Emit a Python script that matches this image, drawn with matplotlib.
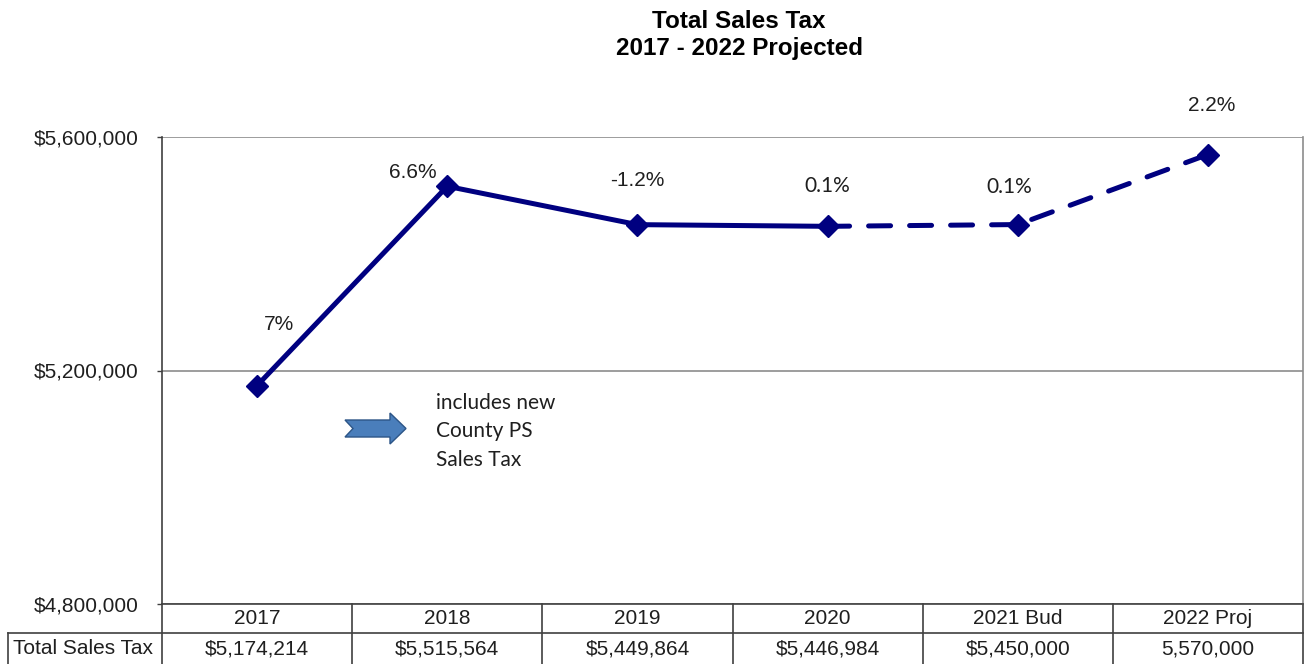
import matplotlib
matplotlib.use("Agg")
import matplotlib.pyplot as plt
from matplotlib.patches import Polygon
from matplotlib.transforms import blended_transform_factory
import numpy as np

plt.rcParams['font.family'] = ['Liberation Sans', 'DejaVu Sans']

# yearly totals and growth over the prior year
years = ['2017', '2018', '2019', '2020', '2021 Bud', '2022 Proj']
sales_tax = [5174214, 5515564, 5449864, 5446984, 5450000, 5570000]
table_text = ['$5,174,214', '$5,515,564', '$5,449,864', '$5,446,984', '$5,450,000', '5,570,000']
growth = ['7%', '6.6%', '-1.2%', '0.1%', '0.1%', '2.2%']
# label offsets in points and font used for each growth label
label_offsets = [(16, 44), (-25, 10), (0, 32), (0, 29), (-6, 27), (3, 35)]
label_fonts = ['Liberation Sans', 'Liberation Sans', 'Liberation Sans', 'Lato', 'Lato', 'Liberation Sans']
actual_end = 3  # 2020 is the last actual year

navy = '#000080'
txt_color = '#1f1f1f'
fs = 15
W, H = 1310, 664

fig = plt.figure(figsize=(W / 100, H / 100), dpi=100)
ax = fig.add_axes([162 / W, 60 / H, 1141 / W, 467 / H])

x = np.arange(len(years))
y = np.array(sales_tax)

# actual years solid, budget / projection dashed
ax.plot(x[actual_end:], y[actual_end:], color=navy, lw=3.6,
        linestyle=(0, (4.4, 3.8)), dash_capstyle='round', zorder=3)
ax.plot(x[:actual_end + 1], y[:actual_end + 1], color=navy, lw=3.6,
        solid_capstyle='round', zorder=4)
ax.plot(x, y, linestyle='none', marker='D', markersize=11, color=navy, zorder=5)

for xi, yi, txt, off, fam in zip(x, y, growth, label_offsets, label_fonts):
    ax.annotate(txt, (xi, yi), xytext=off, textcoords='offset points',
                ha='center', va='center', fontsize=fs, color=txt_color,
                family=fam, annotation_clip=False)

ax.set_xlim(-0.5, len(years) - 0.5)
ax.set_ylim(4800000, 5600000)
ax.set_yticks([4800000, 5200000, 5600000])
ax.set_yticklabels(['$4,800,000', '$5,200,000', '$5,600,000'])
ax.tick_params(axis='y', length=3.6, width=1, color='#404040', labelsize=fs,
               pad=13.5, labelcolor=txt_color)
ax.set_xticks([])
ax.grid(axis='y', color='#8c8c8c', lw=1.2)
ax.set_axisbelow(True)

ax.spines['top'].set_visible(False)
ax.spines['right'].set_color('#8c8c8c')
ax.spines['right'].set_linewidth(1.2)
ax.spines['left'].set_color('#404040')
ax.spines['left'].set_linewidth(1.2)
ax.spines['bottom'].set_color('#404040')
ax.spines['bottom'].set_linewidth(1.2)

# arrow pointing at the note about the county tax
arrow_px = [(345, 420), (390, 420), (390, 413), (406, 428.5), (390, 444),
            (390, 437), (345, 437), (353, 428.5)]
arrow_ax = [((px - 162) / 1141, (604 - py) / 467) for px, py in arrow_px]
ax.add_patch(Polygon(arrow_ax, closed=True, transform=ax.transAxes,
                     facecolor='#4a7ebb', edgecolor='#2c5587', lw=1.0, zorder=2))
ax.text((436 - 162) / 1141, (604 - 393) / 467, 'includes new\nCounty PS\nSales Tax',
        transform=ax.transAxes, family='Lato', fontsize=fs, color=txt_color,
        ha='left', va='top', linespacing=1.52)

# data table under the plot
tr = blended_transform_factory(ax.transData, ax.transAxes)
row1 = -29 / 467
row2 = -62 / 467
line_kw = dict(color='#404040', lw=1.2, clip_on=False)
for i, (yr, val) in enumerate(zip(years, table_text)):
    ax.text(i, -15 / 467, yr, transform=tr, ha='center', va='center',
            fontsize=fs, color=txt_color)
    ax.text(i, -45 / 467, val, transform=tr, ha='center', va='center',
            fontsize=fs, color=txt_color)
for b in np.arange(-0.5, len(years), 1.0):
    ax.plot([b, b], [0, row2], transform=tr, **line_kw)
left_x = (8 - 162) / 1141
ax.plot([left_x, 1], [row1, row1], transform=ax.transAxes, **line_kw)
ax.plot([left_x, left_x], [row1, row2], transform=ax.transAxes, **line_kw)
ax.text((13 - 162) / 1141, -45 / 467, 'Total Sales Tax', transform=ax.transAxes,
        ha='left', va='center', fontsize=fs, color=txt_color)

fig.text(739 / W, 1 - 28 / H, 'Total Sales Tax', ha='center', va='baseline',
         fontsize=17.5, fontweight='bold')
fig.text(739 / W, 1 - 55 / H, '2017 - 2022 Projected', ha='center', va='baseline',
         fontsize=17.5, fontweight='bold')

fig.savefig('out.png', dpi=100, facecolor='white')
